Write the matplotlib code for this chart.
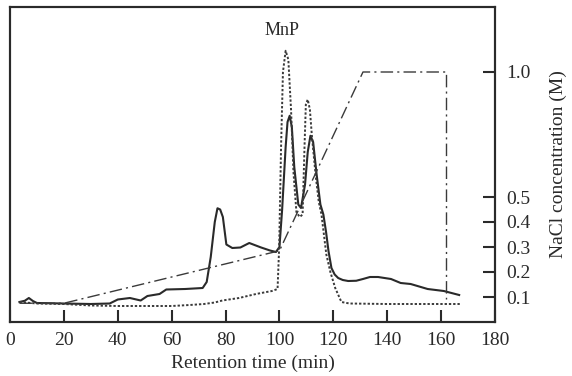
import matplotlib
matplotlib.use("Agg")
import matplotlib.pyplot as plt

plt.rcParams['font.family'] = ['Liberation Serif', 'DejaVu Serif']

# absorbance trace (solid)
abs_t = [3.5, 5.5, 7, 8.5, 10, 20, 30, 37, 40, 44.5, 48.5, 51, 55.5, 58, 65, 71.5, 73, 74.5,
         76, 77, 78, 79, 80.3, 82.5, 85.5, 88.8, 93.2, 96.5, 98.7, 100, 101, 102.3, 103,
         103.8, 104.6, 105.5, 107, 108, 109.5, 110.5, 111.5, 112.5, 113.8, 115.2, 116.3,
         117.3, 118.2, 119.3, 120.5, 121.8, 123.5, 125.5, 128.5, 131, 133.6, 136.6, 141.4,
         145, 148.7, 155, 161, 166.7]
abs_v = [0.08, 0.085, 0.096, 0.084, 0.076, 0.074, 0.072, 0.074, 0.09, 0.096, 0.086, 0.104,
         0.112, 0.13, 0.132, 0.136, 0.16, 0.26, 0.40, 0.455, 0.45, 0.42, 0.31, 0.296, 0.298,
         0.316, 0.298, 0.286, 0.28, 0.30, 0.45, 0.70, 0.80, 0.825, 0.78, 0.62, 0.47, 0.456,
         0.55, 0.68, 0.745, 0.72, 0.59, 0.47, 0.43, 0.36, 0.284, 0.216, 0.19, 0.176, 0.168,
         0.164, 0.165, 0.172, 0.18, 0.18, 0.172, 0.156, 0.152, 0.132, 0.124, 0.108]

# MnP activity (dotted)
mnp_t = [3.5, 10, 20, 30, 40, 50, 60, 66.7, 72, 76, 78.8, 85, 91.3, 97.2, 99.3, 99.9, 100.6,
         101.3, 102.3, 103.3, 104.3, 105.2, 106.3, 107.5, 108.6, 109.3, 109.8, 110.5, 111.3,
         112, 113.4, 114.6, 115.6, 117.4, 118.9, 120.7, 123, 126, 140, 155, 167]
mnp_v = [0.08, 0.074, 0.072, 0.066, 0.064, 0.064, 0.064, 0.068, 0.072, 0.078, 0.086, 0.096,
         0.112, 0.124, 0.132, 0.3, 0.7, 1.0, 1.085, 1.05, 0.85, 0.6, 0.44, 0.42, 0.43, 0.7,
         0.87, 0.89, 0.85, 0.75, 0.59, 0.48, 0.43, 0.27, 0.2, 0.136, 0.08, 0.074, 0.072,
         0.072, 0.072]

# NaCl gradient (dash-dot)
nacl_t = [3.5, 20, 100, 131, 162, 162]
nacl_v = [0.075, 0.075, 0.285, 1.0, 1.0, 0.09]

xticks = [0, 20, 40, 60, 80, 100, 120, 140, 160, 180]
yticks = [0.1, 0.2, 0.3, 0.4, 0.5, 1.0]

fig = plt.figure(figsize=(5.72, 3.76), dpi=100)
ax = fig.add_axes([10 / 572, 1 - 322 / 376, 485 / 572, 315 / 376])
ax2 = ax.twinx()

ax.plot(abs_t, abs_v, color='#2a2a2a', lw=1.5, ls='-')
ax.plot(mnp_t, mnp_v, color='#3a3a3a', lw=1.4, ls=(0, (1.2, 1.0)))
ax2.plot(nacl_t, nacl_v, color='#3a3a3a', lw=1.0, ls=(0, (9, 3, 1.5, 3)))

for a in (ax, ax2):
    a.set_xlim(0, 180)
    a.set_ylim(0, 1.26)
    for s in a.spines.values():
        s.set_linewidth(1.5)
        s.set_color('#2a2a2a')

ax.set_yticks([])
ax.set_xticks(xticks)
ax.set_xticklabels([str(x) for x in xticks])
ax.tick_params(axis='x', direction='in', length=9, width=1.5, pad=7,
               labelsize=14, colors='#2a2a2a')
ax2.set_yticks(yticks)
ax2.set_yticklabels(['0.1', '0.2', '0.3', '0.4', '0.5', '1.0'])
ax2.tick_params(axis='y', direction='in', length=9, width=1.5, pad=8,
                labelsize=14, colors='#2a2a2a')

ax.set_xlabel('Retention time (min)', fontsize=14, color='#2a2a2a', labelpad=4)
ax2.set_ylabel('NaCl concentration (M)', fontsize=14, color='#2a2a2a', labelpad=14)
ax.text(101, 1.165, 'MnP', fontsize=13, color='#2a2a2a', ha='center', va='center')

fig.savefig('out.png', dpi=100)
